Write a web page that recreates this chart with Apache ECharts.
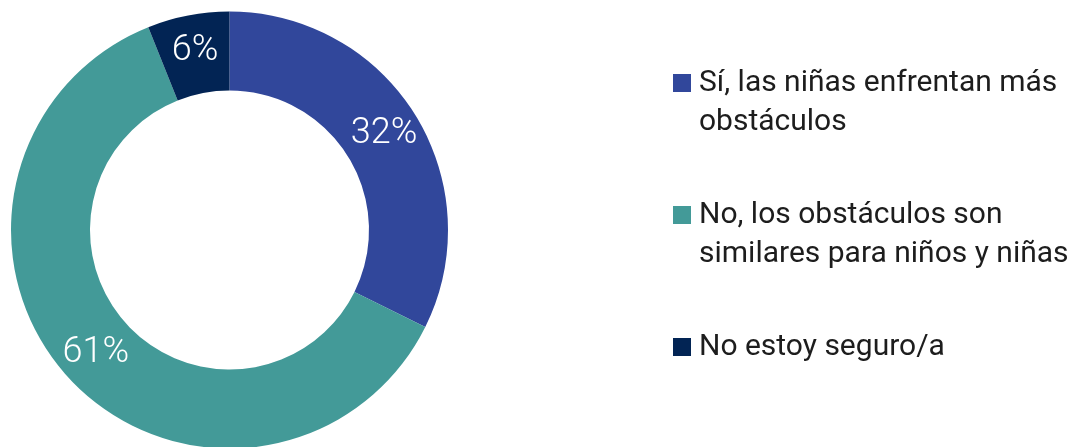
<!DOCTYPE html>
<html>
<head>
<meta charset="utf-8">
<script src="https://cdn.jsdelivr.net/npm/echarts@6/dist/echarts.min.js"></script>
<style>html,body{margin:0;padding:0;background:#fff;}#c{width:1081px;height:447px;}</style>
</head>
<body>
<div id="c"></div>
<script>
var categories = ['Sí, las niñas enfrentan más\nobstáculos', 'No, los obstáculos son\nsimilares para niños y niñas', 'No estoy seguro/a'];
var values = [32, 61, 6];
var colors = ['#31479B', '#439A98', '#022454'];

var chart = echarts.init(document.getElementById('c'));
var fontFam = 'Roboto, "Noto Sans", sans-serif';
var lineH = 39;
var centers = [83, 215, 347];

var legends = categories.map(function (name, i) {
  var nLines = name.split('\n').length;
  var totalLines = nLines > 1 ? 2 * nLines - 1 : 1;
  return {
    orient: 'vertical',
    left: 673,
    top: centers[i] - totalLines * lineH / 2,
    padding: 0,
    itemWidth: 18,
    itemHeight: 18,
    itemGap: 0,
    icon: 'rect',
    selectedMode: false,
    data: [name],
    formatter: function (n) {
      var k = n.split('\n').length;
      var pre = '';
      for (var j = 1; j < k; j++) pre += ' \n';
      return pre + n;
    },
    textStyle: {
      fontFamily: fontFam,
      fontSize: 30,
      color: '#1d1d1d',
      lineHeight: lineH,
      padding: [0, 0, 0, 3]
    }
  };
});

chart.setOption({
  animation: false,
  color: colors,
  legend: legends,
  series: [{
    type: 'pie',
    center: [229.5, 230],
    radius: [139.5, 218.5],
    startAngle: 90,
    clockwise: true,
    avoidLabelOverlap: false,
    label: {
      show: true,
      position: 'inside',
      formatter: '{c}%',
      color: '#ffffff',
      fontFamily: fontFam,
      fontWeight: 300,
      fontSize: 36
    },
    labelLine: { show: false },
    itemStyle: { borderWidth: 0 },
    emphasis: { disabled: true },
    data: categories.map(function (n, i) { return { name: n, value: values[i] }; })
  }]
});
</script>
</body>
</html>
